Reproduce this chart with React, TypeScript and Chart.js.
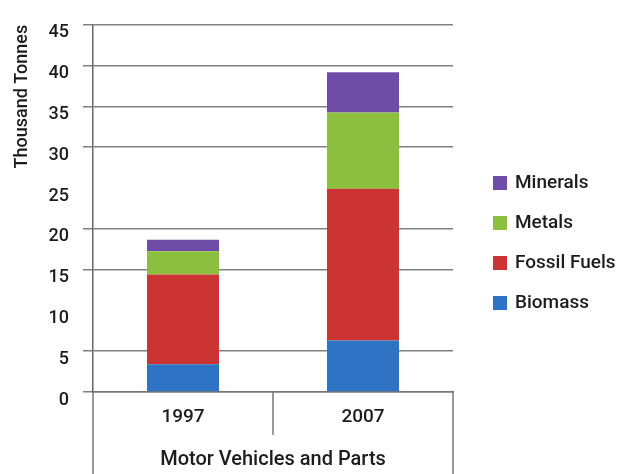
import React, { useEffect, useRef } from "react";
import { Chart, registerables } from "chart.js";

Chart.register(...registerables);

const categories = ["1997", "2007"];
const seriesNames = ["Biomass", "Fossil Fuels", "Metals", "Minerals"];
const biomass = [3.4, 6.3];
const fossilFuels = [11.0, 18.6];
const metals = [2.85, 9.35];
const minerals = [1.4, 4.95];
const seriesColors = ["#2e73c4", "#cc3433", "#8dbf3e", "#6f4ca8"];
const yTicks = [0, 5, 10, 15, 20, 25, 30, 35, 40, 45];
const hiddenGridValues = [10, 25];
const yTitle = "Thousand Tonnes";
const xTitle = "Motor Vehicles and Parts";

const FONT = "Roboto, 'DejaVu Sans', sans-serif";
const TEXT = "#1c1c1c";

const boxPlugin = {
  id: "boxLines",
  afterDraw(chart: any) {
    const { ctx, chartArea } = chart;
    const x = chart.scales.x;
    ctx.save();
    ctx.strokeStyle = "#777";
    ctx.lineWidth = 1.5;
    const b = chartArea.bottom;
    const H = chart.height;
    const mid = (x.getPixelForValue(0) + x.getPixelForValue(1)) / 2;
    ctx.beginPath();
    ctx.moveTo(chartArea.left, b);
    ctx.lineTo(chartArea.left, H);
    ctx.moveTo(chartArea.right, b);
    ctx.lineTo(chartArea.right, H);
    ctx.moveTo(mid, b);
    ctx.lineTo(mid, b + 43);
    ctx.stroke();

    // legend (reverse order)
    const ds = chart.data.datasets;
    const lx = chartArea.right + 40;
    let ly = 183;
    ctx.font = `500 19px ${FONT}`;
    ctx.textBaseline = "middle";
    ctx.textAlign = "left";
    for (let i = ds.length - 1; i >= 0; i--) {
      ctx.fillStyle = ds[i].backgroundColor;
      ctx.fillRect(lx, ly - 7, 14, 14);
      ctx.fillStyle = TEXT;
      ctx.fillText(ds[i].label, lx + 22, ly);
      ly += 40;
    }
    ctx.restore();
  },
};

export default function App() {
  const ref = useRef<HTMLCanvasElement>(null);
  useEffect(() => {
    const values = [biomass, fossilFuels, metals, minerals];
    const chart = new Chart(ref.current!, {
      type: "bar",
      data: {
        labels: categories,
        datasets: seriesNames.map((n, i) => ({
          label: n,
          data: values[i],
          backgroundColor: seriesColors[i],
          borderWidth: 0,
          barPercentage: 0.4,
          categoryPercentage: 1,
        })),
      },
      plugins: [boxPlugin],
      options: {
        animation: false,
        responsive: true,
        maintainAspectRatio: false,
        layout: { padding: { top: 19, right: 172, left: 0, bottom: 0 } },
        plugins: { legend: { display: false }, tooltip: { enabled: false } },
        scales: {
          x: {
            stacked: true,
            afterFit: (s: any) => { s.height = 82; },
            grid: { display: false, drawTicks: false },
            border: { display: true, color: "#777", width: 1.5 },
            ticks: { font: { size: 19, family: FONT, weight: "500" }, color: TEXT, padding: 14 },
            title: { display: true, text: xTitle, font: { size: 20, family: FONT, weight: "500" }, color: TEXT, padding: { top: 0, bottom: 2 } },
          },
          y: {
            stacked: true,
            min: 0,
            max: 45,
            afterFit: (s: any) => { s.width = 93; },
            afterBuildTicks: (s: any) => { s.ticks = yTicks.map((v) => ({ value: v })); },
            grid: {
              color: (c: any) => (hiddenGridValues.includes(c.tick?.value) ? "rgba(0,0,0,0)" : "#808080"),
              lineWidth: 1.5,
              tickLength: 10,
            },
            border: { display: true, color: "#666", width: 1.5 },
            ticks: { font: { size: 18, family: FONT, weight: "500" }, color: TEXT, padding: 14, labelOffset: 8 },
            title: { display: true, text: yTitle, align: "end", font: { size: 18, family: FONT, weight: "500" }, color: TEXT, padding: { top: 12, bottom: 0 } },
          },
        },
      },
    });
    return () => chart.destroy();
  }, []);
  return (
    <div style={{ position: "fixed", left: 0, top: 0, width: 625, height: 474, background: "#fff" }}>
      <canvas ref={ref} />
    </div>
  );
}
